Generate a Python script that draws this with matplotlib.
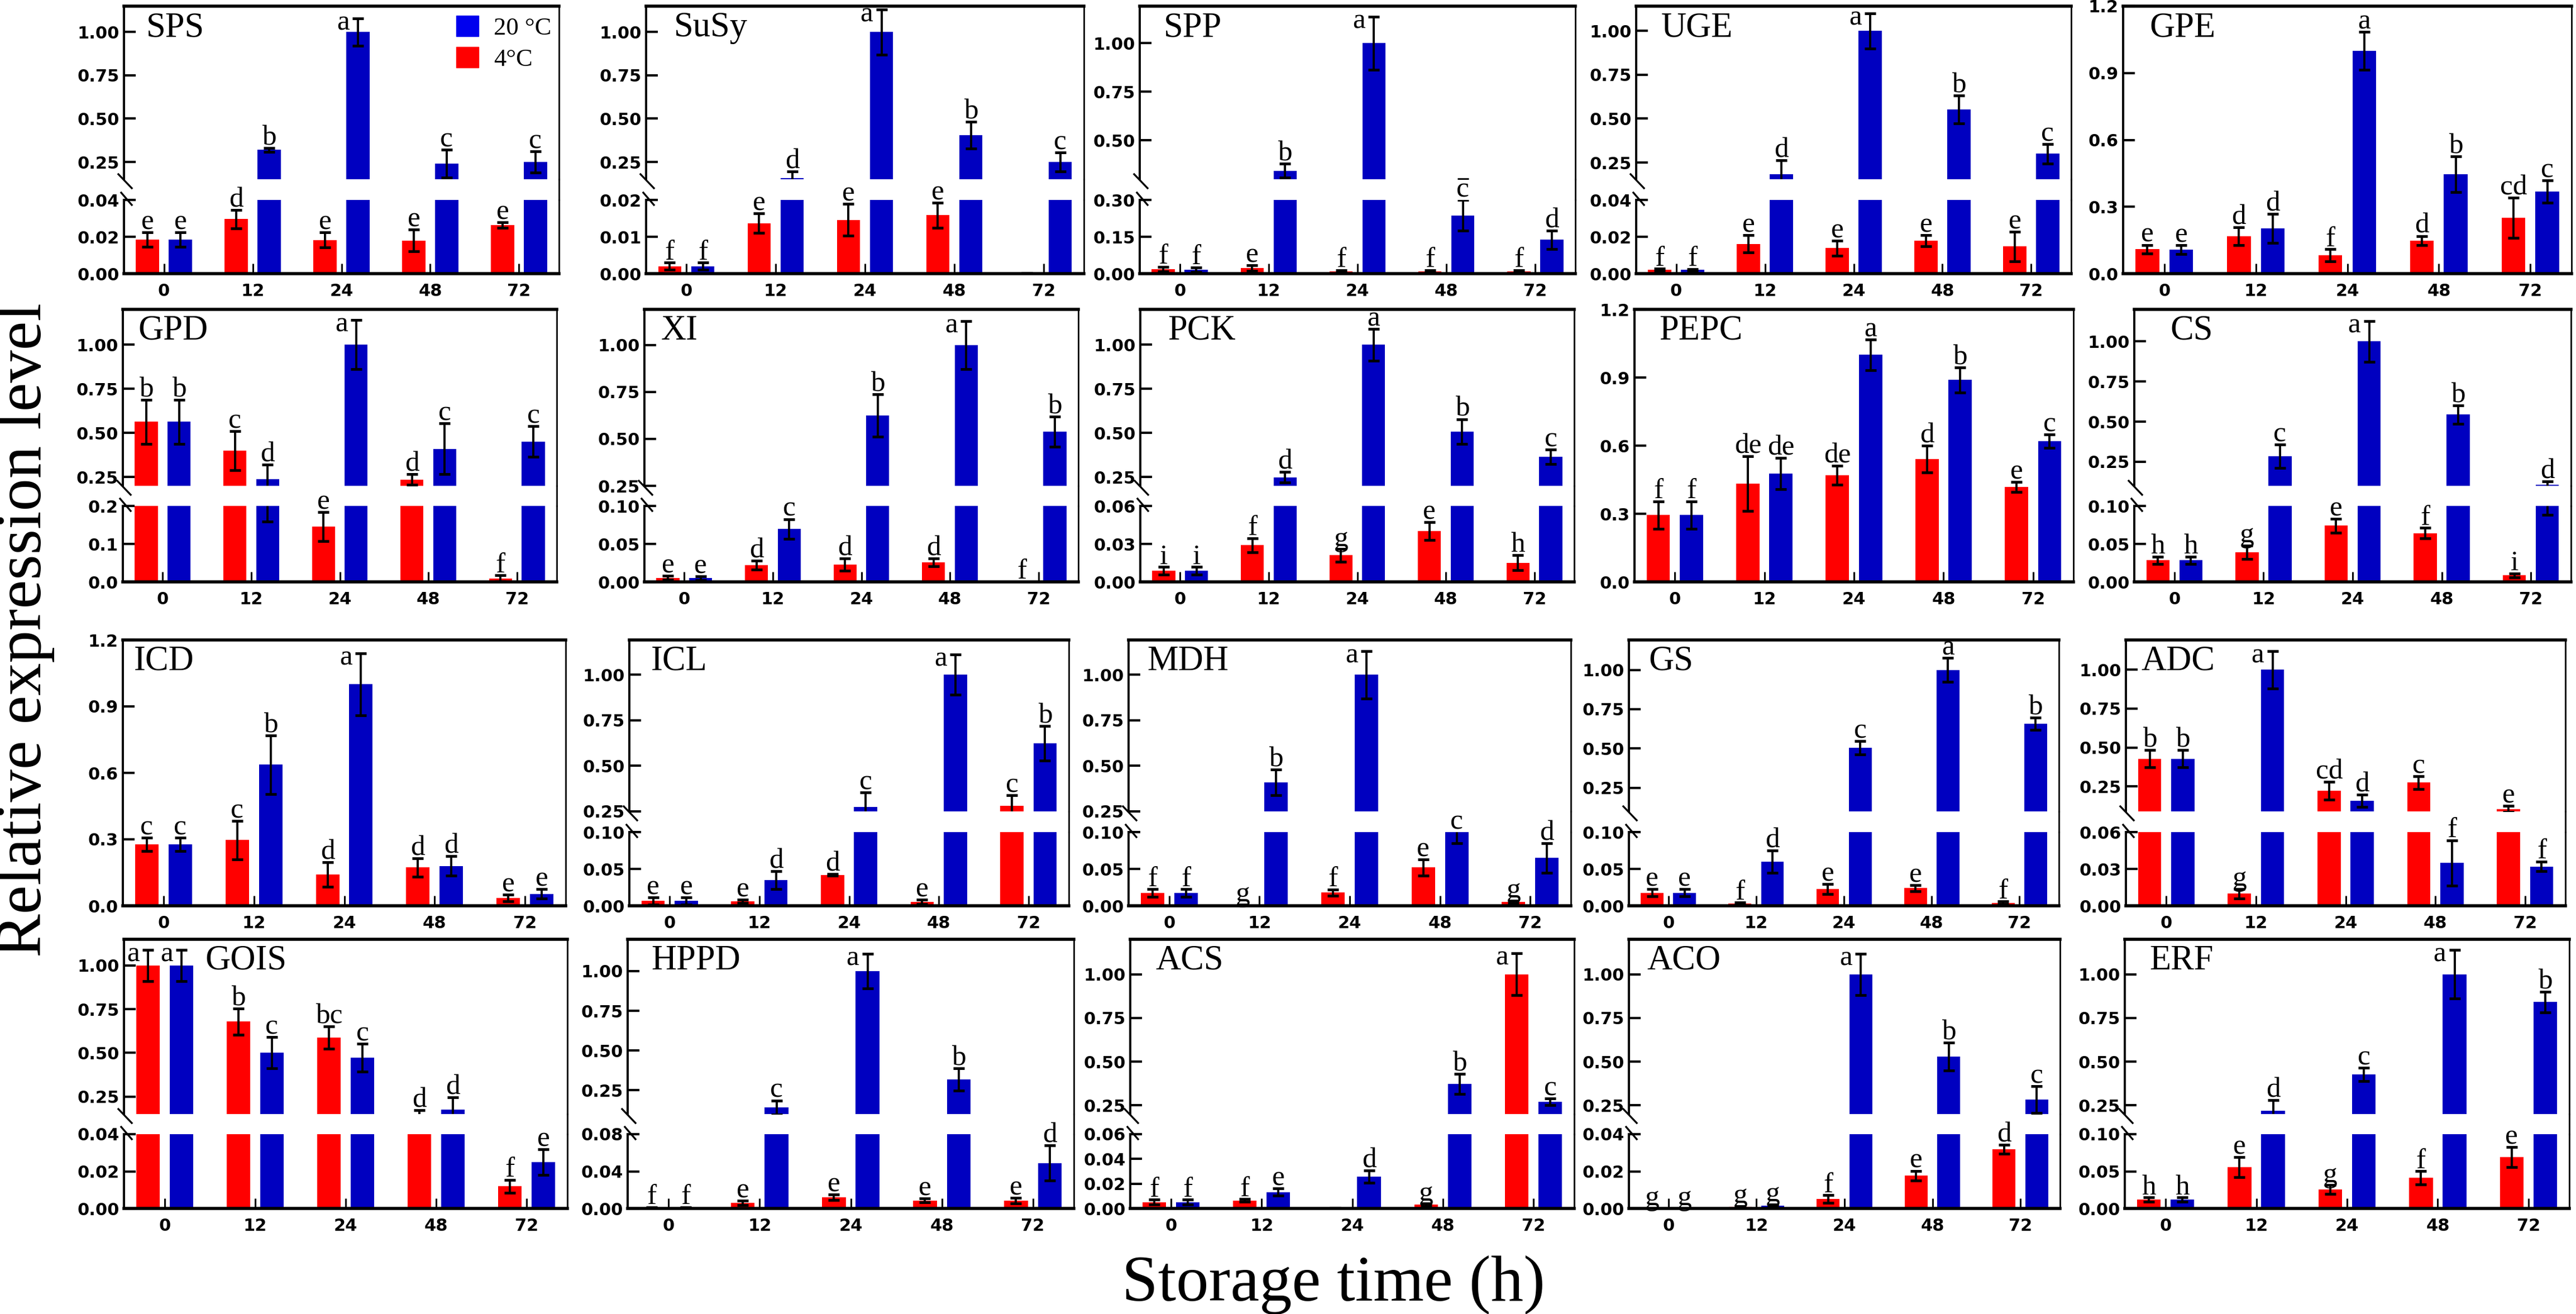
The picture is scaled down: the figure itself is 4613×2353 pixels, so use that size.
import matplotlib
matplotlib.use("Agg")
import matplotlib.pyplot as plt
from matplotlib.lines import Line2D
from matplotlib.patches import Patch
import numpy as np

W, H = 4613, 2353
DPI = 100
PT = DPI / 72.0  # pixels per point

genes = ["SPS", "SuSy", "SPP", "UGE", "GPE",
         "GPD", "XI", "PCK", "PEPC", "CS",
         "ICD", "ICL", "MDH", "GS", "ADC",
         "GOIS", "HPPD", "ACS", "ACO", "ERF"]
times = ["0", "12", "24", "48", "72"]

# relative expression, 4 degC (red)
cold_mean = [
    [0.0185, 0.0296, 0.0183, 0.018, 0.0264],
    [0.002, 0.0137, 0.0146, 0.0159, 0.0002],
    [0.018, 0.022, 0.009, 0.009, 0.009],
    [0.0021, 0.0161, 0.0138, 0.0179, 0.0147],
    [0.109, 0.168, 0.082, 0.149, 0.25],
    [0.563, 0.40, 0.146, 0.236, 0.0095],
    [0.0054, 0.022, 0.023, 0.0258, 0.0],
    [0.0088, 0.029, 0.021, 0.040, 0.0152],
    [0.294, 0.433, 0.469, 0.541, 0.417],
    [0.0285, 0.039, 0.0739, 0.064, 0.0085],
    [0.277, 0.297, 0.141, 0.173, 0.035],
    [0.0065, 0.006, 0.042, 0.005, 0.28],
    [0.0174, 0.001, 0.018, 0.052, 0.005],
    [0.0178, 0.003, 0.0225, 0.0239, 0.004],
    [0.428, 0.0098, 0.222, 0.275, 0.105],
    [1.0, 0.68, 0.588, 0.148, 0.0119],
    [0.001, 0.006, 0.0118, 0.0086, 0.0086],
    [0.005, 0.0065, 0.0005, 0.003, 1.0],
    [0.0, 0.0008, 0.0051, 0.0176, 0.0319],
    [0.0118, 0.0556, 0.0255, 0.0414, 0.069],
]
cold_err = [
    [0.004, 0.005, 0.004, 0.006, 0.0015],
    [0.001, 0.0026, 0.0043, 0.0034, 0.0],
    [0.01, 0.011, 0.005, 0.005, 0.005],
    [0.0005, 0.0047, 0.004, 0.003, 0.008],
    [0.02, 0.04, 0.028, 0.02, 0.09],
    [0.125, 0.11, 0.038, 0.03, 0.008],
    [0.0026, 0.006, 0.008, 0.005, 0.0],
    [0.003, 0.0056, 0.005, 0.007, 0.006],
    [0.06, 0.12, 0.042, 0.06, 0.022],
    [0.0048, 0.009, 0.009, 0.007, 0.0025],
    [0.03, 0.087, 0.055, 0.042, 0.015],
    [0.005, 0.002, 0.001, 0.003, 0.06],
    [0.005, 0.0005, 0.004, 0.011, 0.002],
    [0.005, 0.0015, 0.0067, 0.004, 0.002],
    [0.055, 0.004, 0.058, 0.04, 0.02],
    [0.09, 0.075, 0.065, 0.025, 0.0035],
    [0.0005, 0.0026, 0.003, 0.002, 0.003],
    [0.002, 0.001, 0.0, 0.001, 0.12],
    [0.0, 0.0004, 0.002, 0.0027, 0.0025],
    [0.003, 0.0135, 0.006, 0.0089, 0.0135],
]
# relative expression, 20 degC (blue)
warm_mean = [
    [0.0185, 0.32, 1.0, 0.24, 0.25],
    [0.002, 0.155, 1.0, 0.404, 0.25],
    [0.016, 0.344, 1.0, 0.237, 0.138],
    [0.002, 0.184, 1.0, 0.553, 0.30],
    [0.108, 0.202, 1.0, 0.447, 0.368],
    [0.563, 0.239, 1.0, 0.41, 0.451],
    [0.005, 0.0697, 0.624, 1.0, 0.539],
    [0.0088, 0.248, 1.0, 0.508, 0.365],
    [0.294, 0.477, 1.0, 0.889, 0.619],
    [0.0285, 0.285, 1.0, 0.545, 0.108],
    [0.277, 0.637, 1.0, 0.18, 0.054],
    [0.0065, 0.035, 0.275, 1.0, 0.624],
    [0.0174, 0.41, 1.0, 0.10, 0.065],
    [0.0178, 0.0597, 0.505, 1.0, 0.658],
    [0.428, 1.0, 0.159, 0.0348, 0.032],
    [1.0, 0.502, 0.473, 0.176, 0.025],
    [0.001, 0.141, 1.0, 0.318, 0.049],
    [0.005, 0.0132, 0.0256, 0.372, 0.27],
    [0.0, 0.0016, 1.0, 0.528, 0.284],
    [0.0118, 0.22, 0.428, 1.0, 0.841],
]
warm_err = [
    [0.004, 0.012, 0.08, 0.08, 0.06],
    [0.001, 0.04, 0.13, 0.077, 0.055],
    [0.01, 0.035, 0.136, 0.062, 0.037],
    [0.0005, 0.08, 0.10, 0.08, 0.056],
    [0.02, 0.065, 0.085, 0.08, 0.05],
    [0.125, 0.08, 0.14, 0.145, 0.087],
    [0.0026, 0.013, 0.113, 0.128, 0.08],
    [0.003, 0.03, 0.09, 0.07, 0.04],
    [0.06, 0.068, 0.068, 0.055, 0.03],
    [0.0048, 0.072, 0.128, 0.057, 0.02],
    [0.03, 0.133, 0.14, 0.045, 0.022],
    [0.005, 0.012, 0.078, 0.11, 0.095],
    [0.005, 0.07, 0.13, 0.015, 0.02],
    [0.005, 0.015, 0.042, 0.075, 0.04],
    [0.055, 0.12, 0.04, 0.0185, 0.004],
    [0.09, 0.09, 0.08, 0.07, 0.007],
    [0.0005, 0.045, 0.11, 0.07, 0.019],
    [0.002, 0.003, 0.005, 0.057, 0.02],
    [0.0, 0.0005, 0.118, 0.08, 0.077],
    [0.003, 0.06, 0.038, 0.14, 0.058],
]
# significance letters
cold_letters = [
    ["e", "d", "e", "e", "e"], ["f", "e", "e", "e", ""], ["f", "e", "f", "f", "f"],
    ["f", "e", "e", "e", "e"], ["e", "d", "f", "d", "cd"], ["b", "c", "e", "d", "f"],
    ["e", "d", "d", "d", "f"], ["i", "f", "g", "e", "h"], ["f", "de", "de", "d", "e"],
    ["h", "g", "e", "f", "i"], ["c", "c", "d", "d", "e"], ["e", "e", "d", "e", "c"],
    ["f", "g", "f", "e", "g"], ["e", "f", "e", "e", "f"], ["b", "g", "cd", "c", "e"],
    ["a", "b", "bc", "d", "f"], ["f", "e", "e", "e", "e"], ["f", "f", "", "g", "a"],
    ["g", "g", "f", "e", "d"], ["h", "e", "g", "f", "e"],
]
warm_letters = [
    ["e", "b", "a", "c", "c"], ["f", "d", "a", "b", "c"], ["f", "b", "a", "c", "d"],
    ["f", "d", "a", "b", "c"], ["e", "d", "a", "b", "c"], ["b", "d", "a", "c", "c"],
    ["e", "c", "b", "a", "b"], ["i", "d", "a", "b", "c"], ["f", "de", "a", "b", "c"],
    ["h", "c", "a", "b", "d"], ["c", "b", "a", "d", "e"], ["e", "d", "c", "a", "b"],
    ["f", "b", "a", "c", "d"], ["e", "d", "c", "a", "b"], ["b", "a", "d", "f", "f"],
    ["a", "c", "c", "d", "e"], ["f", "c", "a", "b", "d"], ["f", "e", "d", "b", "c"],
    ["g", "g", "a", "b", "c"], ["h", "d", "c", "a", "b"],
]

# broken y axes: lower segment top, upper segment range (None = single axis 0-1.2)
low_top = [0.04, 0.02, 0.30, 0.04, None, 0.2, 0.10, 0.06, None, 0.10,
           None, 0.10, 0.10, 0.10, 0.06, 0.04, 0.08, 0.06, 0.04, 0.10]
low_ticks = [[0, 0.02, 0.04], [0, 0.01, 0.02], [0, 0.15, 0.30], [0, 0.02, 0.04], None,
             [0, 0.1, 0.2], [0, 0.05, 0.10], [0, 0.03, 0.06], None, [0, 0.05, 0.10],
             None, [0, 0.05, 0.10], [0, 0.05, 0.10], [0, 0.05, 0.10], [0, 0.03, 0.06],
             [0, 0.02, 0.04], [0, 0.04, 0.08], [0, 0.02, 0.04, 0.06], [0, 0.02, 0.04], [0, 0.05, 0.10]]
up_bottom = [0.15, 0.15, 0.30, 0.155, None, 0.2, 0.25, 0.2, None, 0.1,
             None, 0.25, 0.25, 0.1, 0.09, 0.15, 0.1, 0.2, 0.2, 0.2]
up_top = [1.15, 1.15, 1.19, 1.14, 1.2, 1.2, 1.19, 1.2, 1.2, 1.2,
          1.2, 1.19, 1.19, 1.19, 1.19, 1.15, 1.2, 1.2, 1.2, 1.2]
up_ticks_default = [0.25, 0.50, 0.75, 1.00]
up_ticks_spp = [0.50, 0.75, 1.00]
single_ticks = [0.0, 0.3, 0.6, 0.9, 1.2]

# layout in pixels of the reference
row_y = [(11, 321, 358, 490), (554, 870, 906, 1042),
         (1146, 1453, 1490, 1622), (1682, 1995, 2031, 2164)]
col_x = [[(222, 1001), (1157, 1941), (2041, 2821), (2930, 3709), (3802, 4605)],
         [(220, 997), (1154, 1931), (2042, 2819), (2927, 3713), (3822, 4604)],
         [(220, 1013), (1127, 1914), (2021, 2813), (2917, 3687), (3807, 4594)],
         [(222, 1016), (1124, 1923), (2024, 2819), (2917, 3689), (3805, 4601)]]
name_dx = [40, 50, 43, 45, 47, 27, 30, 49, 44, 64, 20, 39, 33, 35, 27, 145, 42, 45, 32, 44]

SERIF = "Liberation Serif"
COLD = "#ff0000"
WARM = "#0000c0"
BW = 0.26
OFF = 0.185
THICK = 4.0
LEFT_W = 2.8
RIGHT_W = 2.0

fig = plt.figure(figsize=(W / DPI, H / DPI), dpi=DPI)


def rect(x0, x1, ytop, ybot):
    return [x0 / W, 1 - ybot / H, (x1 - x0) / W, (ybot - ytop) / H]


def fig_line(xs, ys, lw=RIGHT_W):
    fig.add_artist(Line2D([x / W for x in xs], [1 - y / H for y in ys],
                          color="black", lw=lw, transform=fig.transFigure))


def base_style(ax, show_top, show_bottom):
    ax.set_xlim(-0.45, 4.45)
    ax.spines["left"].set_linewidth(LEFT_W)
    ax.spines["right"].set_linewidth(RIGHT_W)
    ax.spines["top"].set_linewidth(THICK)
    ax.spines["bottom"].set_linewidth(THICK)
    ax.spines["top"].set_visible(show_top)
    ax.spines["bottom"].set_visible(show_bottom)
    ax.tick_params(axis="y", direction="in", length=15, width=3, pad=6, right=False)
    if show_bottom:
        ax.tick_params(axis="x", direction="in", length=13, width=2.2, pad=12, top=False)
        ax.set_xticks(range(5), labels=times, fontweight="bold", fontsize=22)
    else:
        ax.tick_params(axis="x", bottom=False, top=False, labelbottom=False)


def set_yticks(ax, ticks, fmt):
    ax.set_yticks(ticks, labels=[fmt % t for t in ticks], fontweight="bold", fontsize=22)


def draw_bars(ax, g):
    x = np.arange(5)
    ax.bar(x - OFF, cold_mean[g], BW, color=COLD, linewidth=0)
    ax.bar(x + OFF, warm_mean[g], BW, color=WARM, linewidth=0)
    for xs, m, e in [(x - OFF, cold_mean[g], cold_err[g]), (x + OFF, warm_mean[g], warm_err[g])]:
        ax.errorbar(xs, m, yerr=e, fmt="none", ecolor="black", elinewidth=2.8,
                    capsize=7, capthick=3.5)


def put_letter(ax, xpos, y, text, side):
    if side:
        ax.annotate(text, xy=(xpos, y), xytext=(-11, -15), textcoords="offset points",
                    ha="right", va="baseline", fontsize=37, family=SERIF,
                    annotation_clip=False)
    else:
        ax.annotate(text, xy=(xpos, y), xytext=(0, 4), textcoords="offset points",
                    ha="center", va="baseline", fontsize=37, family=SERIF,
                    annotation_clip=False)


def label_panel(g, ax_low, ax_up, ax_hi_px):
    # ax_hi_px: pixel height of the axis that carries the top of the range
    for offs, means, errs, lets in [(-OFF, cold_mean[g], cold_err[g], cold_letters[g]),
                                    (OFF, warm_mean[g], warm_err[g], warm_letters[g])]:
        for i in range(5):
            if not lets[i]:
                continue
            top = means[i] + errs[i]
            xpos = i + offs
            if low_top[g] is None:
                ax, y, lo = ax_up, top, 0.0
            elif top <= low_top[g]:
                ax, y, lo = ax_low, top, None
            elif top < up_bottom[g]:
                ax, y, lo = ax_low, low_top[g], None
            else:
                ax, y, lo = ax_up, top, up_bottom[g]
            side = False
            if lo is not None:
                need = 32 / ax_hi_px * (up_top[g] - lo)
                side = top + need > up_top[g]
            put_letter(ax, xpos, y, lets[i], side)


for g, name in enumerate(genes):
    r, c = divmod(g, 5)
    ytop, yub, ylt, ybase = row_y[r]
    x0, x1 = col_x[r][c]
    if low_top[g] is None:
        ax = fig.add_axes(rect(x0, x1, ytop, ybase))
        base_style(ax, True, True)
        draw_bars(ax, g)
        ax.set_ylim(0, up_top[g])
        set_yticks(ax, single_ticks, "%.1f")
        label_panel(g, None, ax, ybase - ytop)
        name_ax = ax
    else:
        ax_up = fig.add_axes(rect(x0, x1, ytop, yub))
        ax_low = fig.add_axes(rect(x0, x1, ylt, ybase))
        base_style(ax_up, True, False)
        base_style(ax_low, False, True)
        draw_bars(ax_up, g)
        draw_bars(ax_low, g)
        ax_up.set_ylim(up_bottom[g], up_top[g])
        ax_low.set_ylim(0, low_top[g])
        set_yticks(ax_up, up_ticks_spp if name == "SPP" else up_ticks_default, "%.2f")
        set_yticks(ax_low, low_ticks[g], "%.1f" if name == "GPD" else "%.2f")
        label_panel(g, ax_low, ax_up, yub - ytop)
        # break marks on the left spine and the right spine across the gap
        fig_line([x0 - 10, x0 + 14], [yub - 9, yub + 16], lw=2.4)
        fig_line([x0 - 5, x0 + 14], [ylt - 13, ylt + 9], lw=2.4)
        fig_line([x1, x1], [yub, ylt])
        name_ax = ax_up
    name_ax.annotate(name, xy=(0, 1), xycoords="axes fraction",
                     xytext=(name_dx[g] / PT, -10 / PT), textcoords="offset points",
                     ha="left", va="top", fontsize=45, family=SERIF)
    if g == 0:
        handles = [Patch(color="#0000ee"), Patch(color=COLD)]
        name_ax.legend(handles, ["20 °C", "4°C"], loc="upper left",
                       bbox_to_anchor=(0.764, 0.945), frameon=False,
                       prop={"family": SERIF, "size": 32},
                       handlelength=0.9, handleheight=0.9, handletextpad=0.6,
                       labelspacing=0.3, borderpad=0, borderaxespad=0)

fig.text(45 / W, 1 - 1128 / H, "Relative expression level", rotation=90,
         ha="center", va="center", fontsize=84, family=SERIF)
fig.text(2388 / W, 1 - 2329 / H, "Storage time (h)", ha="center", va="baseline",
         fontsize=84, family=SERIF)

fig.savefig("out.png", dpi=DPI)
